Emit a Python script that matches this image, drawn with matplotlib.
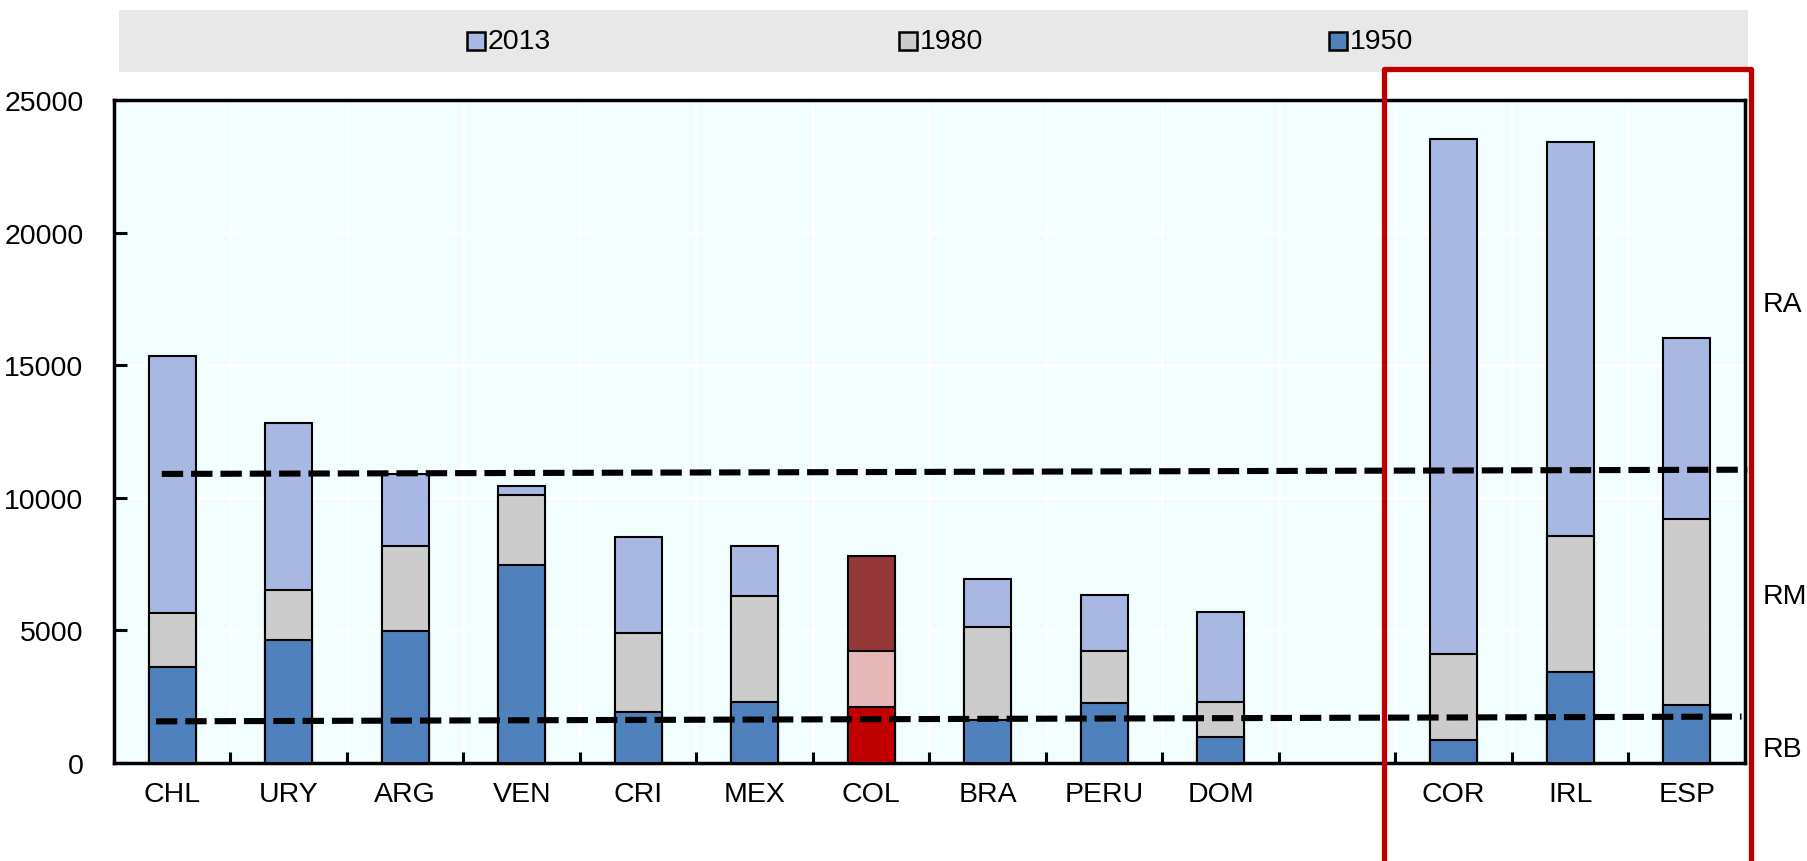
import numpy as np
import matplotlib.pyplot as plt
from matplotlib.patches import Rectangle

plt.rcParams['font.family'] = ['Liberation Sans', 'DejaVu Sans']

countries = ['CHL', 'URY', 'ARG', 'VEN', 'CRI', 'MEX', 'COL', 'BRA', 'PERU', 'DOM', 'COR', 'IRL', 'ESP']
gdp_2013 = [15350, 12820, 10910, 10460, 8510, 8170, 7820, 6940, 6340, 5710, 23530, 23420, 16010]
gdp_1980 = [5640, 6540, 8180, 10120, 4890, 6290, 4210, 5140, 4220, 2310, 4110, 8550, 9200]
gdp_1950 = [3630, 4640, 4970, 7450, 1910, 2310, 2120, 1630, 2260, 990, 860, 3450, 2200]
years = ['2013', '1980', '1950']

# income thresholds (value at left end, value at right end)
high_income = [10900, 11060]
low_income = [1570, 1750]
band_labels = ['RA', 'RM', 'RB']
band_y = [17300, 6300, 530]

# normal colours, then colours for COL
c2013 = ('#A7B8E2', '#953735')
c1980 = ('#CCCCCC', '#E6B9B8')
c1950 = ('#4F81BD', '#C00000')

W, H = 1808, 862
fs = 20.5
fig = plt.figure(figsize=(W / 100, H / 100), dpi=100)
ax = fig.add_axes([114 / W, 1 - 764 / H, 1631 / W, 663 / H])
ax.set_facecolor('#F2FEFE')

# gap after DOM
pos = np.array([i if i < 10 else i + 1 for i in range(len(countries))])
for vals, cols in ((gdp_2013, c2013), (gdp_1980, c1980), (gdp_1950, c1950)):
    colors = [cols[1] if c == 'COL' else cols[0] for c in countries]
    ax.bar(pos, vals, 0.4, color=colors, edgecolor='black', linewidth=1.5, zorder=3)

ax.set_xlim(-0.5, 13.5)
ax.set_ylim(0, 25000)
ax.set_yticks(range(0, 25001, 5000))
ax.set_xticks(pos)
ax.set_xticklabels(countries)
ax.set_xticks(np.arange(0.5, 13, 1), minor=True)
ax.tick_params(axis='x', which='major', length=0, pad=13, labelsize=fs)
ax.tick_params(axis='x', which='minor', direction='in', length=8, width=2.2)
ax.tick_params(axis='y', direction='in', length=9, width=2.2, pad=22, labelsize=fs)
ax.set_axisbelow(True)
ax.grid(axis='y', color='white', linewidth=2)
ax.grid(axis='x', which='minor', color='white', linewidth=2)
for s in ax.spines.values():
    s.set_linewidth(2.5)
    s.set_color('black')

ax.plot([-0.09, 13.52], high_income, color='black', lw=4.4, dashes=(3.5, 1.3), zorder=5, clip_on=False)
ax.plot([-0.14, 13.47], low_income, color='black', lw=4.4, dashes=(3.5, 1.3), zorder=5, clip_on=False)

for lab, y in zip(band_labels, band_y):
    ax.text(1.0105, y, lab, transform=ax.get_yaxis_transform(), fontsize=fs, va='center', ha='left')

# legend band
fig.patches.append(Rectangle((119 / W, 1 - 73 / H), 1629 / W, 62 / H, transform=fig.transFigure,
                             facecolor='#E8E8E8', edgecolor='none', zorder=0))
for lab, cols, xc in zip(years, (c2013, c1980, c1950), (476, 908, 1338)):
    fig.patches.append(Rectangle(((xc - 9) / W, 1 - 51 / H), 18 / W, 18 / H, transform=fig.transFigure,
                                 facecolor=cols[0], edgecolor='black', linewidth=1.8, zorder=2))
    fig.text((xc + 12) / W, 1 - 42 / H, lab, fontsize=fs, va='center', ha='left')

# highlight box around the comparison countries
fig.patches.append(Rectangle((1384 / W, -0.01), 367 / W, 1 - 70 / H + 0.01, transform=fig.transFigure,
                             facecolor='none', edgecolor='#C00000', linewidth=3.8, zorder=10,
                             joinstyle='round'))

fig.savefig('out.png', dpi=100)
